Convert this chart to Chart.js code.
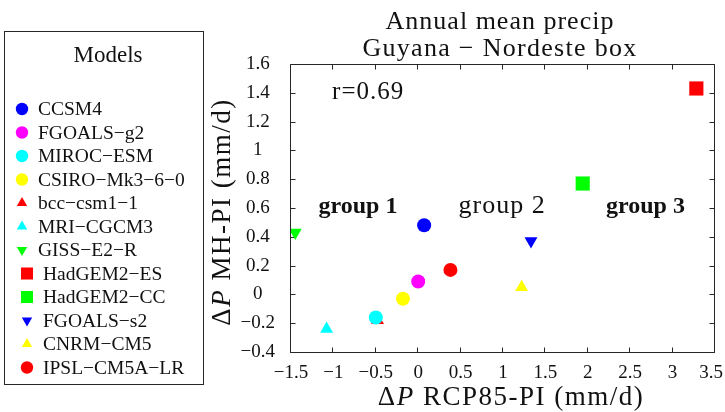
<!DOCTYPE html>
<html>
<head>
<meta charset="utf-8">
<script src="https://cdn.jsdelivr.net/npm/chart.js@4/dist/chart.umd.min.js"></script>
<style>
    html, body { margin: 0; padding: 0; background: #fff; }
</style>
</head>
<body>
<canvas id="precipChart" width="725" height="412"></canvas>
<script>
// Modèles et valeurs
var models = ['CCSM4', 'FGOALS\u2212g2', 'MIROC\u2212ESM', 'CSIRO\u2212Mk3\u22126\u22120', 'bcc\u2212csm1\u22121',
    'MRI\u2212CGCM3', 'GISS\u2212E2\u2212R', 'HadGEM2\u2212ES', 'HadGEM2\u2212CC', 'FGOALS\u2212s2', 'CNRM\u2212CM5', 'IPSL\u2212CM5A\u2212LR'];
var rcpValues = [0.07, 0.00, -0.50, -0.18, -0.48, -1.08, -1.45, 3.28, 1.94, 1.33, 1.22, 0.38];
var mhValues = [0.48, 0.09, -0.16, -0.03, -0.18, -0.24, 0.43, 1.43, 0.77, 0.37, 0.05, 0.17];

var markerColors = ['#0000ff', '#ff00ff', '#00ffff', '#ffff00', '#ff0000', '#00ffff',
    '#00ff00', '#ff0000', '#00ff00', '#0000ff', '#ffff00', '#ff0000'];
var markerShapes = ['circle', 'circle', 'circle', 'circle', 'up', 'up', 'down', 'square', 'square', 'down', 'up', 'circle'];

var xTicks = [-1.5, -1, -0.5, 0, 0.5, 1, 1.5, 2, 2.5, 3, 3.5];
var xTickLabels = ['\u22121.5', '\u22121', '\u22120.5', '0', '0.5', '1', '1.5', '2', '2.5', '3', '3.5'];
var yTicks = [-0.4, -0.2, 0, 0.2, 0.4, 0.6, 0.8, 1, 1.2, 1.4, 1.6];
var yTickLabels = ['\u22120.4', '\u22120.2', '0', '0.2', '0.4', '0.6', '0.8', '1', '1.2', '1.4', '1.6'];

var groupLabels = ['group 1', 'group 2', 'group 3'];
var groupX = [-0.71, 0.99, 2.68];
var groupY = [0.61, 0.61, 0.61];
var groupBold = [true, false, true];
var corrText = 'r=0.69';
var corrPos = [-0.59, 1.4];

var SERIF = '"Liberation Serif", "Times New Roman", serif';

function styleOf(shape) {
    if (shape === 'square') return { pointStyle: 'rect', rotation: 0, radius: 10, legendRadius: 8.5 };
    if (shape === 'up') return { pointStyle: 'triangle', rotation: 0, radius: 7.5, legendRadius: 6 };
    if (shape === 'down') return { pointStyle: 'triangle', rotation: 180, radius: 7.5, legendRadius: 6 };
    return { pointStyle: 'circle', rotation: 0, radius: 7, legendRadius: 6.2 };
}

var datasets = models.map(function (name, i) {
    var s = styleOf(markerShapes[i]);
    return {
        label: name,
        data: [{ x: rcpValues[i], y: mhValues[i] }],
        pointStyle: s.pointStyle,
        rotation: s.rotation,
        pointRadius: s.radius,
        backgroundColor: markerColors[i],
        borderColor: markerColors[i],
        borderWidth: 0
    };
});

// Cadre avec graduations intérieures
var framePlugin = {
    id: 'frame',
    beforeDatasetsDraw: function (chart) {
        var ctx = chart.ctx, a = chart.chartArea;
        var xs = chart.scales.x, ys = chart.scales.y;
        var L = a.left - 0.5, R = a.right - 0.5, T = a.top + 0.5, B = a.bottom + 0.5;
        ctx.save();
        ctx.strokeStyle = '#262626';
        ctx.lineWidth = 1;
        ctx.beginPath();
        ctx.rect(L, T, R - L, B - T);
        xTicks.forEach(function (v) {
            var px = Math.round(xs.getPixelForValue(v)) - 0.5;
            ctx.moveTo(px, B); ctx.lineTo(px, B - 5);
            ctx.moveTo(px, T); ctx.lineTo(px, T + 5);
        });
        yTicks.forEach(function (v) {
            var py = Math.round(ys.getPixelForValue(v)) + 0.5;
            ctx.moveTo(L, py); ctx.lineTo(L + 5, py);
            ctx.moveTo(R, py); ctx.lineTo(R - 5, py);
        });
        ctx.stroke();
        ctx.restore();
    }
};

function drawDeltaLabel(ctx, rest, x, y) {
    var fNorm = '27px ' + SERIF, fIt = 'italic 27px ' + SERIF;
    ctx.letterSpacing = '1.5px';
    ctx.font = fNorm;
    var w1 = ctx.measureText('\u0394').width;
    var w3 = ctx.measureText(rest).width;
    ctx.font = fIt;
    var w2 = ctx.measureText('P').width;
    var x0 = x - (w1 + w2 + w3) / 2;
    ctx.textAlign = 'left';
    ctx.font = fNorm; ctx.fillText('\u0394', x0, y);
    ctx.font = fIt; ctx.fillText('P', x0 + w1, y);
    ctx.font = fNorm; ctx.fillText(rest, x0 + w1 + w2, y);
}

var textPlugin = {
    id: 'texts',
    afterDraw: function (chart) {
        var ctx = chart.ctx, a = chart.chartArea;
        var xs = chart.scales.x, ys = chart.scales.y;
        var cx = (a.left + a.right) / 2;
        ctx.save();
        ctx.fillStyle = '#111';
        ctx.textBaseline = 'alphabetic';
        ctx.letterSpacing = '1px';

        // titre
        ctx.textAlign = 'center';
        ctx.font = '26px ' + SERIF;
        ctx.fillText('Annual mean precip', cx - 3, 29);
        ctx.letterSpacing = '1.3px';
        ctx.fillText('Guyana \u2212 Nordeste box', cx - 3, 56);

        // étiquettes d'axes
        drawDeltaLabel(ctx, ' RCP85-PI (mm/d)', 511, 405);
        ctx.save();
        ctx.translate(230, 212);
        ctx.rotate(-Math.PI / 2);
        drawDeltaLabel(ctx, ' MH-PI (mm/d)', 0, 0);
        ctx.restore();

        // dernière graduation x, rentrée dans la figure
        ctx.letterSpacing = '0px';
        ctx.textAlign = 'right';
        ctx.textBaseline = 'middle';
        ctx.font = '19px ' + SERIF;
        ctx.fillText(xTickLabels[xTickLabels.length - 1], 723, xs.top + 21);

        // annotations
        ctx.textBaseline = 'alphabetic';
        ctx.letterSpacing = '1px';
        ctx.textAlign = 'center';
        ctx.font = '25px ' + SERIF;
        ctx.textBaseline = 'middle';
        ctx.fillText(corrText, xs.getPixelForValue(corrPos[0]), ys.getPixelForValue(corrPos[1]));
        groupLabels.forEach(function (g, i) {
            ctx.letterSpacing = groupBold[i] ? '0px' : '1px';
            ctx.font = (groupBold[i] ? 'bold 24px ' : '26px ') + SERIF;
            ctx.fillText(g, xs.getPixelForValue(groupX[i]), ys.getPixelForValue(groupY[i]));
        });

        // légende
        ctx.letterSpacing = '0px';
        ctx.strokeStyle = '#262626';
        ctx.lineWidth = 1;
        ctx.strokeRect(4.5, 31.5, 199, 353);
        ctx.font = '23px ' + SERIF;
        ctx.textAlign = 'center';
        ctx.fillText('Models', 108, 56);
        ctx.font = '19.5px ' + SERIF;
        ctx.textAlign = 'left';
        models.forEach(function (name, i) {
            var s = styleOf(markerShapes[i]);
            var y = 109 + i * 23.5;
            var mx = i < 7 ? 22 : 27;
            var tx = i < 7 ? 38 : 43;
            ctx.fillStyle = markerColors[i];
            Chart.helpers.drawPoint(ctx, { pointStyle: s.pointStyle, rotation: s.rotation, radius: s.legendRadius, borderWidth: 0 }, mx, y);
            ctx.fillStyle = '#111';
            ctx.fillText(name, tx, y + 1);
        });
        ctx.restore();
    }
};

var ctx = document.getElementById('precipChart').getContext('2d');
var precipChart = new Chart(ctx, {
    type: 'scatter',
    data: { datasets: datasets },
    options: {
        responsive: false,
        animation: false,
        events: [],
        devicePixelRatio: 1,
        layout: { padding: { left: 0, right: 4, top: 64, bottom: 0 } },
        plugins: {
            legend: { display: false },
            title: { display: false },
            tooltip: { enabled: false }
        },
        scales: {
            x: {
                type: 'linear',
                min: -1.5,
                max: 3.5,
                grid: { display: false },
                border: { display: false },
                afterBuildTicks: function (scale) {
                    scale.ticks = xTicks.map(function (v) { return { value: v }; });
                },
                afterFit: function (scale) {
                    scale.height = 60;
                    scale.paddingLeft = 0;
                    scale.paddingRight = 0;
                },
                ticks: {
                    autoSkip: false,
                    maxRotation: 0,
                    padding: 2,
                    color: '#111',
                    font: { family: SERIF, size: 19 },
                    callback: function (v, i) {
                        return i === xTicks.length - 1 ? '' : xTickLabels[i];
                    }
                }
            },
            y: {
                type: 'linear',
                min: -0.4,
                max: 1.6,
                grid: { display: false },
                border: { display: false },
                afterBuildTicks: function (scale) {
                    scale.ticks = yTicks.map(function (v) { return { value: v }; });
                },
                afterFit: function (scale) {
                    scale.width = 291;
                    scale.paddingTop = 0;
                    scale.paddingBottom = 0;
                },
                ticks: {
                    autoSkip: false,
                    crossAlign: 'center',
                    padding: 8,
                    color: '#111',
                    font: { family: SERIF, size: 19 },
                    callback: function (v, i) { return yTickLabels[i]; }
                }
            }
        }
    },
    plugins: [framePlugin, textPlugin]
});
</script>
</body>
</html>
